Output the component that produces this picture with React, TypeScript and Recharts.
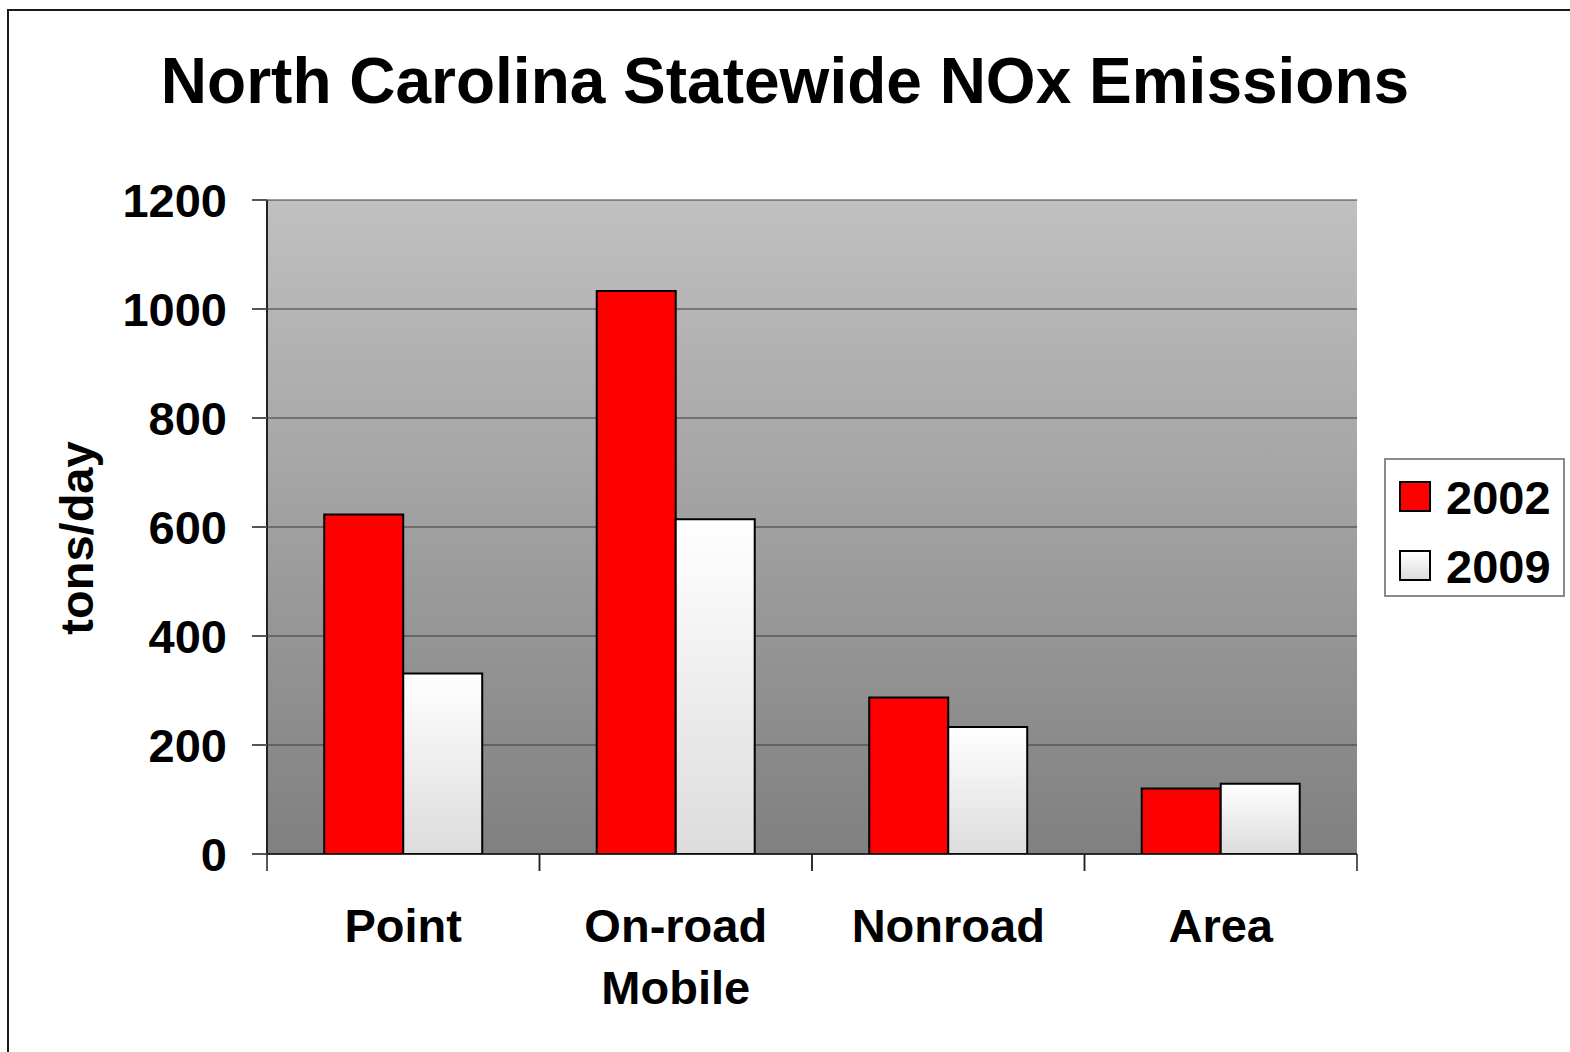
import React from 'react';
import { BarChart, Bar, XAxis, YAxis, CartesianGrid, Legend } from 'recharts';

const categories = ['Point', 'On-road Mobile', 'Nonroad', 'Area'];
const emissions2002 = [623, 1033, 287, 120];
const emissions2009 = [331, 614, 233, 129];
const yTicks = [0, 200, 400, 600, 800, 1000, 1200];
const seriesNames = ['2002', '2009'];

const data = categories.map((c, i) => ({
  category: c,
  y2002: emissions2002[i],
  y2009: emissions2009[i],
}));

const FONT = '"Liberation Sans", Arial, Helvetica, sans-serif';
const X_TICK_MARGIN = 56;
const X_TICK_LEN = 17;

const CategoryTick = (props: any) => {
  const { x, y, payload, width, visibleTicksCount } = props;
  const lines = String(payload.value).split(' ');
  const axisY = y - X_TICK_MARGIN;
  const half = width && visibleTicksCount ? width / visibleTicksCount / 2 : 0;
  return (
    <g>
      {half > 0 && (
        <>
          <line x1={x - half} x2={x - half} y1={axisY} y2={axisY + X_TICK_LEN} stroke="#222" strokeWidth={1.5} />
          <line x1={x + half} x2={x + half} y1={axisY} y2={axisY + X_TICK_LEN} stroke="#222" strokeWidth={1.5} />
        </>
      )}
      <text
        x={x}
        y={y}
        textAnchor="middle"
        style={{ fontFamily: FONT, fontSize: 47, fontWeight: 'bold', fill: '#000' }}
      >
        {lines.map((l, i) => (
          <tspan key={i} x={x} dy={i === 0 ? 32 : 62}>
            {l}
          </tspan>
        ))}
      </text>
    </g>
  );
};

const YLabel = (props: any) => {
  const vb = props.viewBox || {};
  const cx = 93;
  const cy = vb.y + vb.height / 2 + 11;
  return (
    <text
      x={cx}
      y={cy}
      transform={`rotate(-90 ${cx} ${cy})`}
      textAnchor="middle"
      style={{ fontFamily: FONT, fontSize: 47, fontWeight: 'bold', fill: '#000' }}
    >
      tons/day
    </text>
  );
};

const swatchStyles = [
  { background: '#ff0000' },
  { background: 'linear-gradient(#ffffff, #dcdcdc)' },
];

const LegendBox = () => (
  <div
    style={{
      position: 'relative',
      boxSizing: 'border-box',
      width: 181,
      height: 139,
      border: '2px solid #8a8a8a',
      background: '#fff',
      fontFamily: FONT,
    }}
  >
    {seriesNames.map((name, i) => (
      <React.Fragment key={name}>
        <div
          style={{
            position: 'absolute',
            left: 13,
            top: 21 + i * 69,
            width: 32,
            height: 31,
            boxSizing: 'border-box',
            border: '2px solid #000',
            ...swatchStyles[i],
          }}
        />
        <div
          style={{
            position: 'absolute',
            left: 60,
            top: 14 + i * 69,
            fontSize: 47,
            lineHeight: '47px',
            fontWeight: 'bold',
            color: '#000',
            whiteSpace: 'nowrap',
          }}
        >
          {name}
        </div>
      </React.Fragment>
    ))}
  </div>
);

export default function App() {
  return (
    <div style={{ position: 'absolute', left: 0, top: 0, width: 1570, height: 1052, background: '#fff', overflow: 'hidden' }}>
      <div
        style={{
          position: 'absolute',
          left: 7,
          top: 9,
          width: 1600,
          height: 1100,
          borderTop: '2px solid #1a1a1a',
          borderLeft: '2px solid #1a1a1a',
        }}
      />
      <div
        style={{
          position: 'absolute',
          left: 0,
          top: 49,
          width: 1570,
          textAlign: 'center',
          fontFamily: FONT,
          fontSize: 64,
          lineHeight: '64px',
          fontWeight: 'bold',
          color: '#000',
        }}
      >
        North Carolina Statewide NOx Emissions
      </div>
      <div style={{ position: 'absolute', left: 0, top: 0 }}>
        <BarChart
          width={1570}
          height={1052}
          data={data}
          margin={{ top: 200, right: 213, left: 0, bottom: 48 }}
          barCategoryGap="21%"
          barGap={0}
        >
          <defs>
            <linearGradient id="plotBg" x1="0" y1="0" x2="0" y2="1">
              <stop offset="0%" stopColor="#c0c0c0" />
              <stop offset="100%" stopColor="#808080" />
            </linearGradient>
            <linearGradient id="bar2009" x1="0" y1="0" x2="0" y2="1">
              <stop offset="0%" stopColor="#ffffff" />
              <stop offset="100%" stopColor="#dcdcdc" />
            </linearGradient>
          </defs>
          <CartesianGrid
            vertical={false}
            fill="url(#plotBg)"
            fillOpacity={1}
            stroke="#3a3a3a"
            strokeWidth={1.2}
          />
          <XAxis
            dataKey="category"
            tick={<CategoryTick />}
            tickLine={false}
            tickSize={0}
            tickMargin={X_TICK_MARGIN}
            axisLine={{ stroke: '#111', strokeWidth: 1.5 }}
            height={150}
            interval={0}
          />
          <XAxis
            xAxisId="top"
            orientation="top"
            dataKey="category"
            tick={false}
            tickLine={false}
            axisLine={{ stroke: '#888', strokeWidth: 3 }}
            height={0}
          />
          <YAxis
            domain={[0, 1200]}
            ticks={yTicks}
            width={267}
            tickSize={15}
            tickMargin={25}
            tickLine={{ stroke: '#555', strokeWidth: 2 }}
            axisLine={{ stroke: '#222', strokeWidth: 2 }}
            tick={{ fontFamily: FONT, fontSize: 47, fontWeight: 'bold', fill: '#000' }}
            label={<YLabel />}
            allowDataOverflow
          />
          <YAxis
            yAxisId="right"
            orientation="right"
            domain={[0, 1200]}
            width={0}
            tick={false}
            tickLine={false}
            axisLine={{ stroke: '#888', strokeWidth: 3 }}
          />
          <Legend
            layout="horizontal"
            verticalAlign="middle"
            align="center"
            wrapperStyle={{ left: 1384, top: 458, width: 181, height: 139 }}
            content={() => <LegendBox />}
          />
          <Bar dataKey="y2002" name={seriesNames[0]} fill="#ff0000" stroke="#000" strokeWidth={2} isAnimationActive={false} />
          <Bar dataKey="y2009" name={seriesNames[1]} fill="url(#bar2009)" stroke="#000" strokeWidth={2} isAnimationActive={false} />
        </BarChart>
      </div>
    </div>
  );
}
